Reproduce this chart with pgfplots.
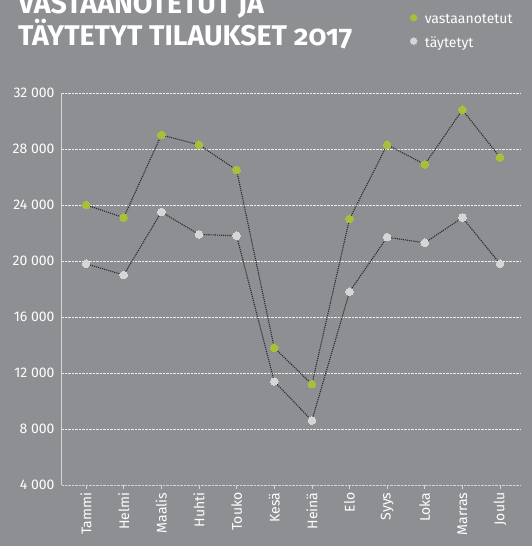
\documentclass[border=0pt]{standalone}
\usepackage{fontspec}
\setmainfont{Fira Sans}
\newfontfamily\titlefont[Numbers=OldStyle]{Fira Sans}
\usepackage{pgfplots}
\pgfplotsset{compat=1.18}
\definecolor{bg}{RGB}{142,143,147}
\definecolor{grn}{RGB}{168,192,56}
\definecolor{lgr}{RGB}{214,214,216}
\definecolor{ln}{RGB}{40,40,42}
\begin{document}
\begin{tikzpicture}
\fill[bg] (0pt,0pt) rectangle (532pt,546pt);
\useasboundingbox (0pt,0pt) rectangle (532pt,546pt);
\begin{scope}
\clip (0pt,0pt) rectangle (532pt,546pt);
\node[anchor=base west,text=white,font=\titlefont\bfseries\fontsize{28.5}{28}\selectfont,inner sep=0pt] at (18pt,532pt) {VASTAANOTETUT JA};
\node[anchor=base west,text=white,font=\titlefont\bfseries\fontsize{28.5}{28}\selectfont,inner sep=0pt] at (18pt,500pt) {TÄYTETYT TILAUKSET 2017};
\begin{axis}[
  at={(62pt,61pt)}, anchor=south west,
  scale only axis, width=458pt, height=392pt,
  xmin=-0.64, xmax=11.53, ymin=4000, ymax=32000,
  axis background/.style={fill=none},
  axis x line*=bottom, axis y line*=left,
  x axis line style={draw=lgr, densely dotted, -},
  y axis line style={draw=lgr, line width=1pt, -},
  xtick={0,...,11},
  xticklabels={Tammi,Helmi,Maalis,Huhti,Touko,Kesä,Heinä,Elo,Syys,Loka,Marras,Joulu},
  x tick label style={rotate=90, anchor=east, font=\fontsize{14}{14}\selectfont, text=white},
  ytick={4000,8000,...,32000},
  y tick label style={font=\fontsize{14}{14}\selectfont, text=white},
  /pgf/number format/assume math mode=true,
  /pgf/number format/1000 sep={\ },
  scaled y ticks=false,
  xtick style={draw=lgr, line width=0.6pt},
  ytick style={draw=none},
  tick align=outside, major tick length=4pt,
  ymajorgrids, grid style={draw=white!85!bg, densely dotted, line width=0.7pt},
  legend style={at={(0.757,1.205)}, anchor=north west, draw=none, fill=none, text=white,
    font=\fontsize{14}{14}\selectfont, row sep=9pt, inner sep=0pt,
    nodes={inner sep=1.5pt}},
  legend cell align=left,
  clip=false,
]
\addplot[ln, densely dotted, line width=1.1pt, mark=*, mark size=3.8pt,
  mark options={solid, draw=grn, fill=grn, line width=0pt},
  legend image code/.code={\fill[grn] (0.15cm,0.07cm) circle (3.3pt); \path (0,0) (0.15cm+9pt,0);}]
  coordinates {(0,24000)(1,23100)(2,29000)(3,28300)(4,26500)(5,13800)(6,11200)(7,23000)(8,28300)(9,26900)(10,30800)(11,27400)};
\addlegendentry{vastaanotetut}
\addplot[ln, densely dotted, line width=1.1pt, mark=*, mark size=3.8pt,
  mark options={solid, draw=lgr, fill=lgr, line width=0pt},
  legend image code/.code={\fill[lgr] (0.15cm,0.07cm) circle (3.3pt); \path (0,0) (0.15cm+9pt,0);}]
  coordinates {(0,19800)(1,19000)(2,23500)(3,21900)(4,21800)(5,11400)(6,8600)(7,17800)(8,21700)(9,21300)(10,23100)(11,19800)};
\addlegendentry{täytetyt}
\end{axis}
\end{scope}
\end{tikzpicture}
\end{document}
